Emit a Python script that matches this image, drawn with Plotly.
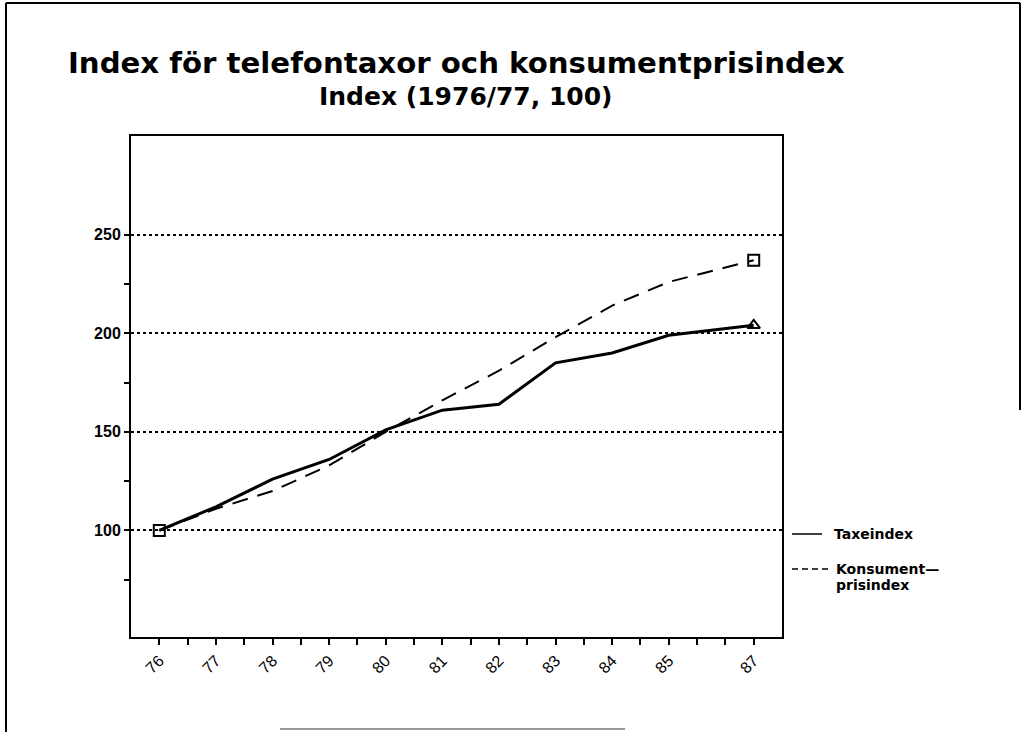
import plotly.graph_objects as go

# ---- data ----
x_pos = [76, 77, 78, 79, 80, 81, 82, 83, 84, 85, 86.5]
tick_labels = ["76", "77", "78", "79", "80", "81", "82", "83", "84", "85", "87"]
taxeindex = [100, 112, 126, 136, 151, 161, 164, 185, 190, 199, 204]
kpi = [100, 111, 120, 133, 150, 166, 181, 198, 214, 226, 237]
y_ticks = [100, 150, 200, 250]
y_minor = [75, 125, 175, 225]
x_minor = [76.5, 77.5, 78.5, 79.5, 80.5, 81.5, 82.5, 83.5, 84.5, 85.5, 86]

W, H = 1022, 732
L, R, T, B = 131, 782, 136, 637


def px(p):
    return (p - L) / (R - L)


def py(p):
    return (B - p) / (B - T)


FONT = "Liberation Sans, Arial, sans-serif"
BOLDF = "DejaVu Sans, Liberation Sans, sans-serif"

fig = go.Figure()
fig.add_trace(go.Scatter(
    x=x_pos, y=kpi, mode="lines", line=dict(color="black", width=2, dash="16px,10px"),
    showlegend=False))
fig.add_trace(go.Scatter(
    x=x_pos, y=taxeindex, mode="lines", line=dict(color="black", width=3),
    showlegend=False))
# end markers
fig.add_trace(go.Scatter(
    x=[x_pos[0], x_pos[-1]], y=[kpi[0], kpi[-1]], mode="markers",
    marker=dict(symbol="square-open", size=11, color="black", line=dict(width=2)),
    showlegend=False))
fig.add_trace(go.Scatter(
    x=[x_pos[-1]], y=[taxeindex[-1]], mode="markers",
    marker=dict(symbol="triangle-up-open", size=11, color="black", line=dict(width=2)),
    showlegend=False))

fig.update_xaxes(
    range=[75.5, 87.0], showline=True, linecolor="black", linewidth=2, mirror=True,
    showgrid=False, zeroline=False,
    tickvals=x_pos, ticktext=tick_labels, tickangle=-45,
    ticks="outside", ticklen=6, tickwidth=1.5, tickcolor="black",
    tickfont=dict(family=FONT, size=16, color="black"),
    minor=dict(tickvals=x_minor, ticks="outside", ticklen=6, tickwidth=1.5, tickcolor="black", showgrid=False),
)
fig.update_yaxes(
    range=[46, 300], showline=True, linecolor="black", linewidth=2, mirror=True,
    zeroline=False, tickvals=y_ticks,
    showgrid=True, gridcolor="black", gridwidth=1.5, griddash="dot",
    ticks="outside", ticklen=5, tickwidth=1.5, tickcolor="black",
    tickfont=dict(family=FONT, size=16, color="black", weight="bold"),
    minor=dict(tickvals=y_minor, ticks="outside", ticklen=5, tickwidth=1.5, tickcolor="black", showgrid=False),
)

annotations = [
    dict(text="Index för telefontaxor och konsumentprisindex", x=px(66), y=py(63),
         xanchor="left", yanchor="middle", font=dict(family=BOLDF, size=29.2, color="black", weight="bold")),
    dict(text="Index (1976/77, 100)", x=px(317), y=py(96),
         xanchor="left", yanchor="middle", font=dict(family=BOLDF, size=25, color="black", weight="bold")),
    dict(text="Taxeindex", x=px(832), y=py(534),
         xanchor="left", yanchor="middle", font=dict(family=BOLDF, size=14, color="black", weight="bold")),
    dict(text="Konsument—", x=px(834), y=py(569),
         xanchor="left", yanchor="middle", font=dict(family=BOLDF, size=14, color="black", weight="bold")),
    dict(text="prisindex", x=px(834), y=py(585),
         xanchor="left", yanchor="middle", font=dict(family=BOLDF, size=14, color="black", weight="bold")),
]
for a in annotations:
    a.update(xref="paper", yref="paper", showarrow=False)

shapes = [
    # legend samples
    dict(type="line", x0=px(792), x1=px(822), y0=py(534), y1=py(534), line=dict(color="black", width=1.5)),
    dict(type="line", x0=px(792), x1=px(828), y0=py(569), y1=py(569), line=dict(color="black", width=1.5, dash="6px,4px")),
    # page frame
    dict(type="line", x0=px(6), x1=px(6), y0=py(3), y1=py(732), line=dict(color="black", width=2)),
    dict(type="line", x0=px(6), x1=px(1020), y0=py(3), y1=py(3), line=dict(color="black", width=2)),
    dict(type="line", x0=px(1020), x1=px(1020), y0=py(3), y1=py(410), line=dict(color="black", width=2)),
    dict(type="line", x0=px(280), x1=px(625), y0=py(729), y1=py(729), line=dict(color="#999999", width=2)),
]
for s in shapes:
    s.update(xref="paper", yref="paper")

fig.update_layout(
    width=W, height=H, autosize=False,
    margin=dict(l=L, r=W - R, t=T, b=H - B),
    paper_bgcolor="white", plot_bgcolor="white",
    annotations=annotations, shapes=shapes,
    font=dict(family=FONT, color="black"),
)

fig.write_html("out.html", config={"displayModeBar": False},
               post_script="document.body.style.margin='0';")
